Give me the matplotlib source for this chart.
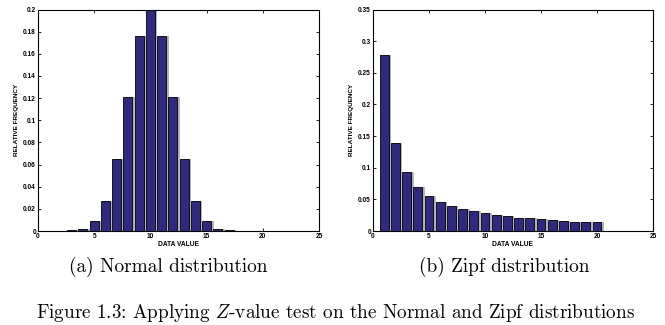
import matplotlib
matplotlib.use("Agg")
import matplotlib.pyplot as plt
import numpy as np

plt.rcParams['mathtext.fontset'] = 'cm'

# Data
normal_x = list(range(1, 25))
normal_y = [0.0, 0.0, 0.0005, 0.002, 0.009, 0.027, 0.065, 0.121, 0.176, 0.200,
            0.176, 0.121, 0.065, 0.027, 0.009, 0.002, 0.0005, 0.0, 0.0, 0.0,
            0.0, 0.0, 0.0, 0.0]
zipf_x = list(range(1, 25))
zipf_y = [0.278, 0.139, 0.093, 0.070, 0.056, 0.046, 0.040, 0.035, 0.031, 0.028,
          0.025, 0.023, 0.021, 0.020, 0.019, 0.017, 0.016, 0.015, 0.015, 0.014,
          0.0, 0.0, 0.0, 0.0]

normal_yticks = [0, 0.02, 0.04, 0.06, 0.08, 0.1, 0.12, 0.14, 0.16, 0.18, 0.2]
normal_ylabels = ['0', '0.02', '0.04', '0.06', '0.08', '0.1', '0.12', '0.14', '0.16', '0.18', '0.2']
zipf_yticks = [0, 0.05, 0.1, 0.15, 0.2, 0.25, 0.3, 0.35]
zipf_ylabels = ['0', '0.05', '0.1', '0.15', '0.2', '0.25', '0.3', '0.35']
xticks = [0, 5, 10, 15, 20, 25]

bar_color = '#2f2a80'

fig = plt.figure(figsize=(6.65, 3.25), dpi=100)
ax1 = fig.add_axes([38/665, 1-231/325, 281/665, 221.5/325])
ax2 = fig.add_axes([373/665, 1-231/325, 280/665, 221.5/325])

tick_font = dict(family='Liberation Sans', size=4.7, weight='bold')

def draw(ax, x, y, yticks, ylabels, ymax):
    x = np.array(x)
    ax.bar(x + 0.13, y, width=0.8, color='#b0b0b0', edgecolor='#b0b0b0', linewidth=0.6, zorder=1)
    ax.bar(x, y, width=0.8, color=bar_color, edgecolor='black', linewidth=0.6, zorder=2)
    ax.set_xlim(0, 25)
    ax.set_ylim(0, ymax)
    ax.set_xticks(xticks)
    ax.set_xticklabels([str(t) for t in xticks], fontdict=tick_font)
    ax.set_yticks(yticks)
    ax.set_yticklabels(ylabels, fontdict=tick_font)
    ax.tick_params(direction='in', length=2.2, width=0.6, top=True, right=True, pad=1.5)
    for s in ax.spines.values():
        s.set_linewidth(0.8)
    ax.set_xlabel('DATA VALUE', fontdict=dict(family='Liberation Sans', size=4.8, weight='bold'), labelpad=1)
    ax.set_ylabel('RELATIVE FREQUENCY', fontdict=dict(family='Liberation Sans', size=4.6, weight='bold'), labelpad=3)

draw(ax1, normal_x, normal_y, normal_yticks, normal_ylabels, 0.2)
draw(ax2, zipf_x, zipf_y, zipf_yticks, zipf_ylabels, 0.35)

fig.text(168/665, 1-267/325, '(a) Normal distribution', family='cmr10', size=13.9, ha='center', va='center')
fig.text(504/665, 1-267/325, '(b) Zipf distribution', family='cmr10', size=13.9, ha='center', va='center')
fig.text(335/665, 1-313/325, r'Figure 1.3: Applying $Z$-value test on the Normal and Zipf distributions',
         family='cmr10', size=13.8, ha='center', va='center')

fig.savefig('out.png', dpi=100)
